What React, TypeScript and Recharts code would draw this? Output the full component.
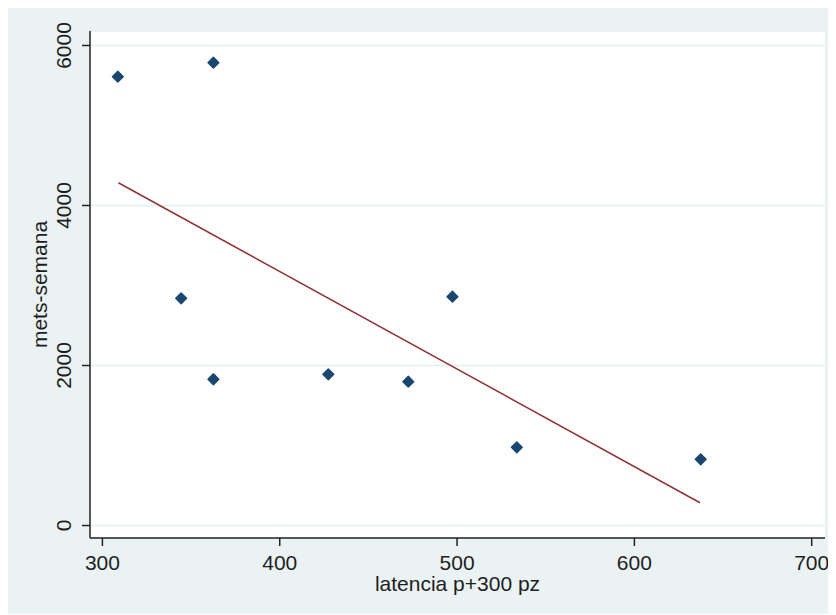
import React from 'react';
import { ScatterChart, Scatter, XAxis, YAxis, CartesianGrid } from 'recharts';

// valores
const latencia = [308.7, 362.6, 344.4, 362.6, 427.4, 472.5, 497.4, 533.7, 637.4];
const metsSemana = [5610, 5785, 2840, 1828, 1890, 1798, 2860, 978, 828];

// recta de ajuste (extremos)
const fitX = [309, 637];
const fitY = [4285, 285];

const xTicks = [300, 400, 500, 600, 700];
const yTicks = [0, 2000, 4000, 6000];

const points = latencia.map((x, i) => ({ x, y: metsSemana[i] }));
const fit = fitX.map((x, i) => ({ x, y: fitY[i] }));

const FONT = 'Liberation Sans, Arial, sans-serif';
const TEXT = '#1e1e1e';

const Diamond = (props: any) => {
  const { cx, cy } = props;
  const r = 5.4;
  return (
    <path
      d={`M${cx},${cy - r} L${cx + r},${cy} L${cx},${cy + r} L${cx - r},${cy} Z`}
      fill="#1a476f"
      stroke="#1a476f"
      strokeWidth={1.4}
      strokeLinejoin="round"
    />
  );
};

const YTick = (props: any) => {
  const { x, y, payload } = props;
  return (
    <text
      x={x}
      y={y}
      transform={`rotate(-90, ${x}, ${y})`}
      textAnchor="middle"
      fontSize={21}
      fontFamily={FONT}
      fill={TEXT}
    >
      {payload.value}
    </text>
  );
};

const YLabel = (props: any) => {
  const { viewBox } = props;
  const x = viewBox.x + 41;
  const y = viewBox.y + viewBox.height / 2;
  return (
    <text
      x={x}
      y={y}
      transform={`rotate(-90, ${x}, ${y})`}
      textAnchor="middle"
      fontSize={21}
      fontFamily={FONT}
      fill={TEXT}
    >
      mets-semana
    </text>
  );
};

const App: React.FC = () => {
  return (
    <div style={{ marginLeft: -2, width: 830, height: 606, background: '#eaf2f3' }}>
      <ScatterChart width={830} height={606} margin={{ top: 23, right: 11, bottom: 0, left: 0 }}>
        <CartesianGrid vertical={false} fill="#ffffff" stroke="#e4edf0" strokeWidth={1.5} />
        <XAxis
          type="number"
          dataKey="x"
          domain={[293, 707.5]}
          allowDataOverflow
          ticks={xTicks}
          height={76}
          tickSize={8}
          tickMargin={9}
          stroke="#222"
          strokeWidth={1.5}
          tick={{ fontSize: 21, fontFamily: FONT, fill: TEXT }}
          label={{
            value: 'latencia p+300 pz',
            position: 'insideBottom',
            offset: 23,
            fontSize: 21,
            fontFamily: FONT,
            fill: TEXT,
          }}
        />
        <YAxis
          type="number"
          dataKey="y"
          domain={[-156, 6181]}
          allowDataOverflow
          ticks={yTicks}
          width={84}
          tickSize={8}
          tickMargin={11}
          stroke="#222"
          strokeWidth={1.5}
          tick={<YTick />}
          label={<YLabel />}
        />
        <Scatter
          data={fit}
          line={{ stroke: '#90353b', strokeWidth: 1.6 }}
          shape={() => <g />}
          isAnimationActive={false}
        />
        <Scatter data={points} shape={<Diamond />} isAnimationActive={false} />
      </ScatterChart>
    </div>
  );
};

export default App;
